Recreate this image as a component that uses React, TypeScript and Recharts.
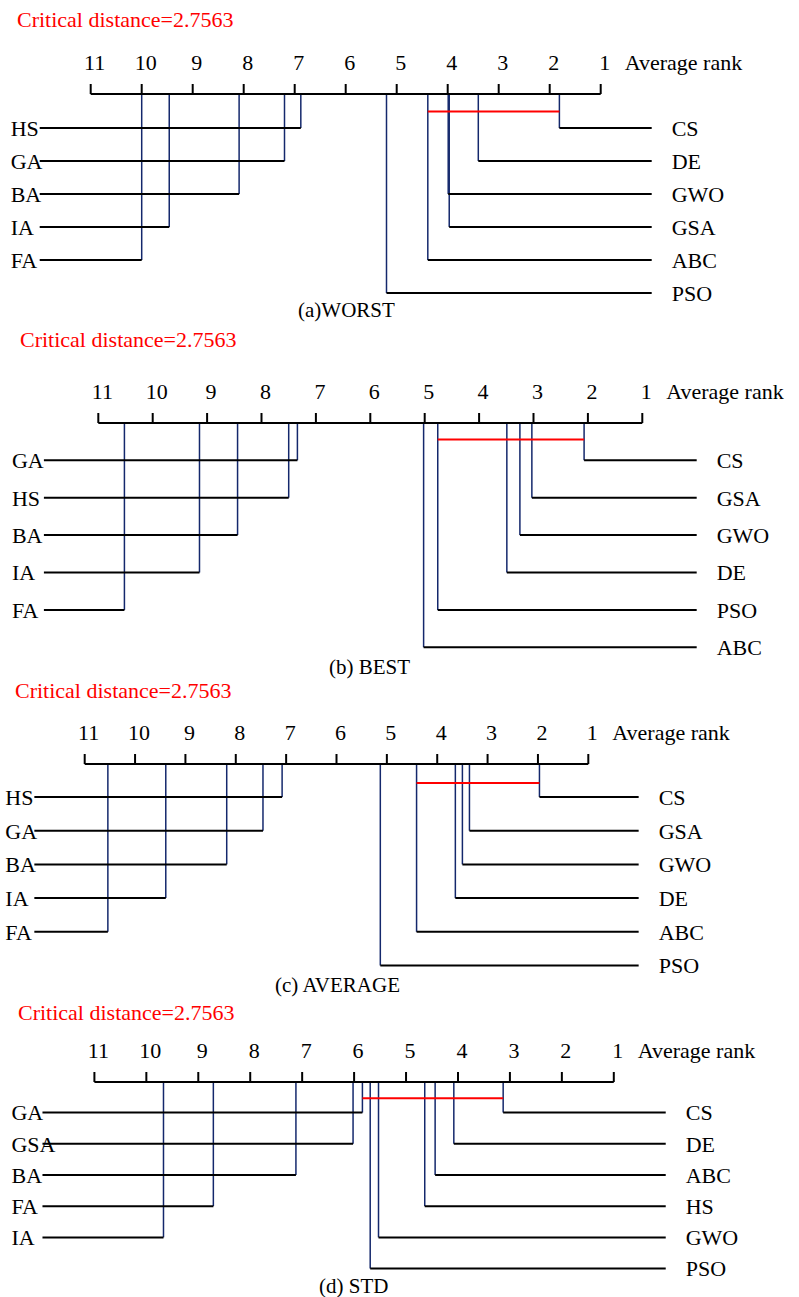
import { ComposedChart, XAxis, YAxis, ReferenceLine, ReferenceDot } from "recharts";

const RANK_TICKS = [1, 2, 3, 4, 5, 6, 7, 8, 9, 10, 11];
const CRITICAL_DISTANCE = 2.7563;

// (a) WORST
const worstLeftNames = ["HS", "GA", "BA", "IA", "FA"];
const worstLeftRanks = [6.88, 7.2, 8.09, 9.46, 10.0];
const worstRightNames = ["CS", "DE", "GWO", "GSA", "ABC", "PSO"];
const worstRightRanks = [1.81, 3.4, 3.99, 3.97, 4.39, 5.2];
const worstClique = [4.39, 1.81];

// (b) BEST
const bestLeftNames = ["GA", "HS", "BA", "IA", "FA"];
const bestLeftRanks = [7.34, 7.5, 8.44, 9.14, 10.52];
const bestRightNames = ["CS", "GSA", "GWO", "DE", "PSO", "ABC"];
const bestRightRanks = [2.07, 3.03, 3.25, 3.49, 4.76, 5.02];
const bestClique = [4.76, 2.07];

// (c) AVERAGE
const avgLeftNames = ["HS", "GA", "BA", "IA", "FA"];
const avgLeftRanks = [7.08, 7.46, 8.18, 9.39, 10.54];
const avgRightNames = ["CS", "GSA", "GWO", "DE", "ABC", "PSO"];
const avgRightRanks = [1.97, 3.36, 3.5, 3.64, 4.41, 5.13];
const avgClique = [4.41, 1.97];

// (d) STD
const stdLeftNames = ["GA", "GSA", "BA", "FA", "IA"];
const stdLeftRanks = [5.84, 6.02, 7.12, 8.71, 9.67];
const stdRightNames = ["CS", "DE", "ABC", "HS", "GWO", "PSO"];
const stdRightRanks = [3.13, 4.08, 4.44, 4.64, 5.53, 5.69];
const stdClique = [5.84, 3.13];

const FONT = "Liberation Serif";
const NAVY = "#14286c";
const RED = "#ff0000";
const AXIS_H = 60;
const LEFT_END = 12; // horizontal lines run one rank past the scale
const RIGHT_END = 0;

function RankTick(props: any) {
  const { x, y, payload } = props;
  return (
    <g>
      <text x={x + 4} y={y} textAnchor="middle" fill="#000" fontSize={22} fontFamily={FONT}>
        {payload.value}
      </text>
      {payload.value === 1 && (
        <text x={x + 24} y={y} textAnchor="start" fill="#000" fontSize={22} fontFamily={FONT}>
          Average rank
        </text>
      )}
    </g>
  );
}

interface PanelLayout {
  axisY: number;
  x11: number;
  step: number;
  rowTop: number;
  rowGap: number;
  cliqueY: number;
  labelShift: number;
}

interface PanelProps {
  layout: PanelLayout;
  leftNames: string[];
  leftRanks: number[];
  rightNames: string[];
  rightRanks: number[];
  clique: number[];
}

function CdPanel({ layout, leftNames, leftRanks, rightNames, rightRanks, clique }: PanelProps) {
  const { axisY, x11, step, rowTop, rowGap, cliqueY, labelShift } = layout;
  const left = x11 - step;
  const plotW = 12 * step;
  const right = 799 - left - plotW;
  const H = rowTop + 5 * rowGap + 18;
  const rowY = (i: number) => rowTop + i * rowGap;

  const data = [...leftRanks, ...rightRanks].map((rank) => ({ rank }));

  return (
    <div style={{ position: "absolute", left: 0, top: axisY - AXIS_H }}>
      <ComposedChart
        width={799}
        height={AXIS_H + H}
        data={data}
        margin={{ top: 0, right, bottom: 0, left }}
      >
        <XAxis
          xAxisId={0}
          type="number"
          dataKey="rank"
          domain={[0, 12]}
          allowDataOverflow
          reversed
          orientation="top"
          ticks={RANK_TICKS}
          interval={0}
          height={AXIS_H}
          tickSize={10}
          tickMargin={14}
          axisLine={false}
          tickLine={{ stroke: "#000", strokeWidth: 2 }}
          tick={<RankTick />}
        />
        <YAxis yAxisId={0} type="number" hide domain={[0, H]} allowDataOverflow reversed />

        {/* connectors from the axis down to each method */}
        {leftRanks.map((r, i) => (
          <ReferenceLine
            key={`lv-${i}`}
            segment={[{ x: r, y: 0 }, { x: r, y: rowY(i) }]}
            stroke={NAVY}
            strokeWidth={1.5}
            ifOverflow="visible"
          />
        ))}
        {rightRanks.map((r, i) => (
          <ReferenceLine
            key={`rv-${i}`}
            segment={[{ x: r, y: 0 }, { x: r, y: rowY(i) }]}
            stroke={NAVY}
            strokeWidth={1.5}
            ifOverflow="visible"
          />
        ))}
        {leftRanks.map((r, i) => (
          <ReferenceLine
            key={`lh-${i}`}
            segment={[{ x: LEFT_END, y: rowY(i) }, { x: r, y: rowY(i) }]}
            stroke="#000"
            strokeWidth={2}
            ifOverflow="visible"
          />
        ))}
        {rightRanks.map((r, i) => (
          <ReferenceLine
            key={`rh-${i}`}
            segment={[{ x: r, y: rowY(i) }, { x: RIGHT_END, y: rowY(i) }]}
            stroke="#000"
            strokeWidth={2}
            ifOverflow="visible"
          />
        ))}

        {/* axis line */}
        <ReferenceLine
          segment={[{ x: 11, y: 0 }, { x: 1, y: 0 }]}
          stroke="#000"
          strokeWidth={2}
          ifOverflow="visible"
        />

        {/* critical distance clique */}
        <ReferenceLine
          segment={[{ x: clique[0], y: cliqueY }, { x: clique[1], y: cliqueY }]}
          stroke={RED}
          strokeWidth={2}
          ifOverflow="visible"
        />

        {leftNames.map((name, i) => (
          <ReferenceDot
            key={`ll-${i}`}
            x={LEFT_END}
            y={rowY(i)}
            r={0}
            fill="none"
            stroke="none"
            ifOverflow="visible"
            label={{
              value: name,
              position: "right",
              offset: labelShift,
              fill: "#000",
              fontSize: 22,
              fontFamily: FONT,
            }}
          />
        ))}
        {rightNames.map((name, i) => (
          <ReferenceDot
            key={`rl-${i}`}
            x={RIGHT_END}
            y={rowY(i)}
            r={0}
            fill="none"
            stroke="none"
            ifOverflow="visible"
            label={{
              value: name,
              position: "right",
              offset: 20,
              fill: "#000",
              fontSize: 22,
              fontFamily: FONT,
            }}
          />
        ))}
      </ComposedChart>
    </div>
  );
}

const titles = [
  { x: 17, y: 27 },
  { x: 20, y: 347 },
  { x: 15, y: 698 },
  { x: 18, y: 1020 },
];
const captions = [
  { x: 298, y: 317, text: "(a)WORST" },
  { x: 329, y: 674, text: "(b) BEST" },
  { x: 275, y: 992, text: "(c) AVERAGE" },
  { x: 319, y: 1293, text: "(d) STD" },
];

export default function App() {
  return (
    <div
      style={{
        position: "absolute",
        left: 0,
        top: 0,
        width: 799,
        height: 1297,
        background: "#fff",
        fontFamily: FONT,
        overflow: "hidden",
      }}
    >
      <CdPanel
        layout={{ axisY: 93.5, x11: 90.7, step: 51, rowTop: 34, rowGap: 33, cliqueY: 17.5, labelShift: -29 }}
        leftNames={worstLeftNames}
        leftRanks={worstLeftRanks}
        rightNames={worstRightNames}
        rightRanks={worstRightRanks}
        clique={worstClique}
      />
      <CdPanel
        layout={{ axisY: 422.7, x11: 98.3, step: 54.4, rowTop: 37.3, rowGap: 37.4, cliqueY: 16.6, labelShift: -32 }}
        leftNames={bestLeftNames}
        leftRanks={bestLeftRanks}
        rightNames={bestRightNames}
        rightRanks={bestRightRanks}
        clique={bestClique}
      />
      <CdPanel
        layout={{ axisY: 764.3, x11: 84.7, step: 50.36, rowTop: 33, rowGap: 33.7, cliqueY: 19, labelShift: -29 }}
        leftNames={avgLeftNames}
        leftRanks={avgLeftRanks}
        rightNames={avgRightNames}
        rightRanks={avgRightRanks}
        clique={avgClique}
      />
      <CdPanel
        layout={{ axisY: 1081.7, x11: 94.4, step: 51.94, rowTop: 30.6, rowGap: 31.2, cliqueY: 16.3, labelShift: -31 }}
        leftNames={stdLeftNames}
        leftRanks={stdLeftRanks}
        rightNames={stdRightNames}
        rightRanks={stdRightRanks}
        clique={stdClique}
      />
      <svg
        width={799}
        height={1297}
        style={{ position: "absolute", left: 0, top: 0, pointerEvents: "none" }}
      >
        {titles.map((t, i) => (
          <text key={`t-${i}`} x={t.x} y={t.y} fill={RED} fontSize={22} fontFamily={FONT}>
            {`Critical distance=${CRITICAL_DISTANCE}`}
          </text>
        ))}
        {captions.map((c, i) => (
          <text key={`c-${i}`} x={c.x} y={c.y} fill="#000" fontSize={21} fontFamily={FONT}>
            {c.text}
          </text>
        ))}
      </svg>
    </div>
  );
}
